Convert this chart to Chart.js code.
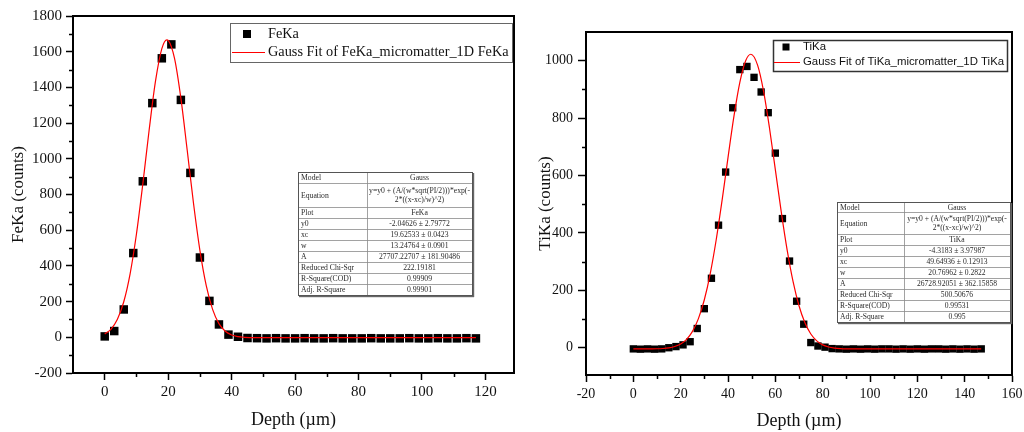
<!DOCTYPE html>
<html>
<head>
<meta charset="utf-8">
<script src="https://cdn.jsdelivr.net/npm/chart.js@4.4.0/dist/chart.umd.min.js"></script>
<style>
  html, body { margin: 0; padding: 0; background: #fff; width: 1024px; height: 432px; overflow: hidden; }
  canvas { position: absolute; top: 0; }
  #fe { left: 0; }
  #ti { left: 520px; }
</style>
</head>
<body>
<canvas id="fe" width="520" height="432"></canvas>
<canvas id="ti" width="504" height="432"></canvas>
<script>
// ---------- FeKa depth profile ----------
const feDepth  = [0, 3, 6, 9, 12, 15, 18, 21, 24, 27, 30, 33, 36, 39, 42, 45, 48, 51, 54, 57,
                  60, 63, 66, 69, 72, 75, 78, 81, 84, 87, 90, 93, 96, 99, 102, 105, 108, 111, 114, 117];
const feCounts = [5, 35, 156, 472, 874, 1312, 1563, 1641, 1330, 921, 447, 204, 72, 15, 3, -4, -5, -6, -5, -6,
                  -6, -5, -6, -6, -5, -6, -6, -6, -5, -6, -6, -6, -5, -6, -6, -5, -6, -6, -5, -6];
// Gauss fit curve of FeKa
const feFitDepth  = [0, 2, 4, 6, 8, 10, 12, 14, 16, 18, 19.6, 20, 22, 24, 26, 28, 30, 32, 34, 36, 38, 40,
                     42, 44, 46, 48, 50, 60, 70, 80, 90, 100, 110, 117];
const feFitCounts = [18.7, 46.4, 101.3, 199, 355.7, 578.5, 858.2, 1161.5, 1434.7, 1617.3, 1666.7, 1664, 1562.8,
                     1339.7, 1048, 748.3, 487.3, 289.4, 156.3, 76.5, 33.6, 12.7, 3.5, -0.1, -1.4, -1.9, -2,
                     -2, -2, -2, -2, -2, -2, -2];
const feXTicks = [0, 20, 40, 60, 80, 100, 120];
const feXMinor = [10, 30, 50, 70, 90, 110];
const feYTicks = [-200, 0, 200, 400, 600, 800, 1000, 1200, 1400, 1600, 1800];
const feYMinor = [-100, 100, 300, 500, 700, 900, 1100, 1300, 1500, 1700];
const feFitLabels = ['Model', 'Equation', 'Plot', 'y0', 'xc', 'w', 'A', 'Reduced Chi-Sqr', 'R-Square(COD)', 'Adj. R-Square'];
const feFitValues = ['Gauss', ['y=y0 + (A/(w*sqrt(PI/2)))*exp(-', '2*((x-xc)/w)^2)'], 'FeKa',
                     '-2.04626 \u00b1 2.79772', '19.62533 \u00b1 0.0423', '13.24764 \u00b1 0.0901',
                     '27707.22707 \u00b1 181.90486', '222.19181', '0.99909', '0.99901'];

// ---------- TiKa depth profile ----------
const tiDepth  = [0, 3, 6, 9, 12, 15, 18, 21, 24, 27, 30, 33, 36, 39, 42, 45, 48, 51, 54, 57,
                  60, 63, 66, 69, 72, 75, 78, 81, 84, 87, 90, 93, 96, 99, 102, 105, 108, 111, 114, 117,
                  120, 123, 126, 129, 132, 135, 138, 141, 144, 147];
const tiCounts = [-4, -5, -4, -5, -4, 0, 4, 10, 21, 67, 136, 242, 427, 612, 836, 969, 980, 942, 891, 819,
                  678, 450, 302, 162, 82, 18, 6, 2, -3, -4, -5, -4, -5, -4, -5, -4, -4, -5, -4, -5,
                  -4, -5, -4, -4, -5, -4, -5, -4, -5, -4];
// Gauss fit curve of TiKa
const tiFitDepth  = [0, 5, 7.5, 10, 12.5, 15, 17.5, 20, 22.5, 25, 27.5, 30, 32.5, 35, 37.5, 40, 42.5, 45, 47.5,
                     49.65, 52.5, 55, 57.5, 60, 62.5, 65, 67.5, 70, 72.5, 75, 77.5, 80, 82.5, 85, 87.5, 90, 95,
                     100, 147];
const tiFitCounts = [-4.3, -4.2, -4.0, -3.6, -2.6, -0.4, 4.2, 13.1, 29.4, 57.1, 101.3, 167.1, 258.3, 375.3, 513.6,
                     662.5, 805.8, 924.5, 1000.7, 1022.5, 984.5, 894.9, 767.2, 620.5, 473.2, 340, 230, 146.2,
                     86.9, 47.9, 23.9, 10, 2.6, -1.2, -3.0, -3.8, -4.2, -4.3, -4.3];
const tiXTicks = [-20, 0, 20, 40, 60, 80, 100, 120, 140, 160];
const tiXMinor = [-10, 10, 30, 50, 70, 90, 110, 130, 150];
const tiYTicks = [0, 200, 400, 600, 800, 1000];
const tiYMinor = [100, 300, 500, 700, 900];
const tiFitLabels = ['Model', 'Equation', 'Plot', 'y0', 'xc', 'w', 'A', 'Reduced Chi-Sqr', 'R-Square(COD)', 'Adj. R-Square'];
const tiFitValues = ['Gauss', ['y=y0 + (A/(w*sqrt(PI/2)))*exp(-', '2*((x-xc)/w)^2)'], 'TiKa',
                     '-4.3183 \u00b1 3.97987', '49.64936 \u00b1 0.12913', '20.76962 \u00b1 0.2822',
                     '26728.92051 \u00b1 362.15858', '500.50676', '0.99531', '0.995'];

const SERIF = '"Liberation Serif", "Times New Roman", serif';
const SANS = '"Liberation Sans", Arial, sans-serif';

function pairs(xs, ys) { return xs.map((x, i) => ({ x: x, y: ys[i] })); }

function makeScale(o) {
  return {
    type: 'linear',
    min: o.min, max: o.max,
    afterBuildTicks: s => { s.ticks = o.ticks.map(v => ({ value: v })); },
    afterFit: s => {
      if (o.isX) s.height = o.size; else s.width = o.size;
      s.paddingLeft = 0; s.paddingRight = 0; s.paddingTop = 0; s.paddingBottom = 0;
    },
    grid: { drawOnChartArea: false, drawTicks: true, tickLength: o.tickLen, tickWidth: 1.5,
            tickColor: '#000', color: '#000' },
    border: { display: true, color: '#000', width: 2 },
    ticks: { color: '#111', font: { family: SERIF, size: o.tickSize }, padding: o.tickPad,
             maxRotation: 0, autoSkip: false, callback: v => String(v) },
    title: { display: true, text: o.title, color: '#111',
             font: { family: SERIF, size: o.titleSize }, padding: o.titlePad }
  };
}

// frame, minor ticks, legend box and fit-result table
const panelDecor = {
  id: 'panelDecor',
  afterDraw(chart, args, opts) {
    const { ctx, chartArea: a, scales } = chart;
    ctx.save();
    ctx.strokeStyle = '#000';
    ctx.lineWidth = 1.5;
    ctx.beginPath();
    opts.xMinor.forEach(v => {
      const px = Math.round(scales.x.getPixelForValue(v)) + 0.5;
      ctx.moveTo(px, a.bottom); ctx.lineTo(px, a.bottom + 4);
    });
    opts.yMinor.forEach(v => {
      const py = Math.round(scales.y.getPixelForValue(v)) + 0.5;
      ctx.moveTo(a.left - 4, py); ctx.lineTo(a.left, py);
    });
    ctx.stroke();
    // top and right edges of the frame
    ctx.lineWidth = 2;
    ctx.beginPath();
    ctx.moveTo(a.left, a.top); ctx.lineTo(a.right, a.top); ctx.lineTo(a.right, a.bottom);
    ctx.stroke();

    // legend
    const L = opts.legend;
    ctx.fillStyle = '#fff';
    ctx.fillRect(L.x, L.y, L.w, L.h);
    ctx.strokeStyle = L.border; ctx.lineWidth = L.borderWidth;
    ctx.strokeRect(L.x + 0.5, L.y + 0.5, L.w, L.h);
    const dsPts = chart.data.datasets[1], dsFit = chart.data.datasets[0];
    ctx.font = L.font; ctx.textBaseline = 'middle'; ctx.textAlign = 'left';
    ctx.fillStyle = dsPts.backgroundColor;
    ctx.fillRect(L.markX - L.mark / 2, L.row1 - L.mark / 2, L.mark, L.mark);
    ctx.fillStyle = '#111';
    ctx.fillText(dsPts.label, L.textX, L.row1);
    ctx.strokeStyle = dsFit.borderColor; ctx.lineWidth = 1;
    ctx.beginPath(); ctx.moveTo(L.lineX0, L.row2 + 0.5); ctx.lineTo(L.lineX1, L.row2 + 0.5); ctx.stroke();
    ctx.fillStyle = '#111';
    ctx.fillText(dsFit.label, L.textX, L.row2);

    // table of fit results
    const T = opts.table;
    const heights = [T.headH, T.eqH].concat(new Array(T.labels.length - 2).fill(T.rowH));
    const total = heights.reduce((s, h) => s + h, 0);
    ctx.fillStyle = '#fff';
    ctx.fillRect(T.x, T.y, T.w, total);
    ctx.strokeStyle = '#8a8a8a'; ctx.lineWidth = 0.8;
    let yy = T.y;
    ctx.beginPath();
    for (let i = 0; i < heights.length - 1; i++) {
      yy += heights[i];
      ctx.moveTo(T.x, Math.round(yy) + 0.5); ctx.lineTo(T.x + T.w, Math.round(yy) + 0.5);
    }
    ctx.moveTo(T.split + 0.5, T.y); ctx.lineTo(T.split + 0.5, T.y + total);
    ctx.stroke();
    ctx.strokeStyle = '#555'; ctx.lineWidth = 1;
    ctx.strokeRect(T.x + 0.5, T.y + 0.5, T.w, total);
    ctx.fillStyle = '#666';
    ctx.fillRect(T.x + T.w + 1, T.y + 1, 1.2, total + 1);
    ctx.fillRect(T.x + 1, T.y + total + 1, T.w + 1, 1.2);
    ctx.font = T.font; ctx.fillStyle = '#2a2a2a'; ctx.textBaseline = 'middle';
    yy = T.y;
    T.labels.forEach((lab, i) => {
      const h = heights[i], cy = yy + h / 2 + 0.5;
      ctx.textAlign = 'left';
      ctx.fillText(lab, T.x + 3, cy);
      ctx.textAlign = 'center';
      const cx = (T.split + T.x + T.w) / 2;
      const val = T.values[i];
      if (Array.isArray(val)) {
        ctx.fillText(val[0], cx, cy - 4.5);
        ctx.fillText(val[1], cx, cy + 4.5);
      } else {
        ctx.fillText(val, cx, cy);
      }
      yy += h;
    });
    ctx.restore();
  }
};

function makeChart(id, cfg) {
  return new Chart(document.getElementById(id), {
    type: 'line',
    data: {
      datasets: [
        { label: cfg.fitLabel, data: pairs(cfg.fitX, cfg.fitY), borderColor: '#ff0000', borderWidth: 1.2,
          pointRadius: 0, cubicInterpolationMode: 'monotone', fill: false, order: 0 },
        { label: cfg.label, data: pairs(cfg.x, cfg.y), showLine: false, pointStyle: 'rect',
          pointRadius: cfg.markR, backgroundColor: '#000', borderColor: '#000', borderWidth: 0, order: 1 }
      ]
    },
    options: {
      responsive: false,
      animation: false,
      devicePixelRatio: 1,
      layout: { padding: cfg.pad },
      plugins: {
        legend: { display: false },
        tooltip: { enabled: false },
        panelDecor: { xMinor: cfg.xMinor, yMinor: cfg.yMinor, legend: cfg.legend, table: cfg.table }
      },
      scales: { x: cfg.xScale, y: cfg.yScale }
    },
    plugins: [panelDecor]
  });
}

makeChart('fe', {
  label: 'FeKa', fitLabel: 'Gauss Fit of FeKa_micromatter_1D FeKa',
  x: feDepth, y: feCounts, fitX: feFitDepth, fitY: feFitCounts, markR: 6,
  xMinor: feXMinor, yMinor: feYMinor,
  pad: { top: 16, right: 3, left: 0, bottom: 0 },
  xScale: makeScale({ isX: true, min: -10, max: 129, ticks: feXTicks, size: 59, tickLen: 7, tickSize: 15,
                      tickPad: 3, title: 'Depth (\u00b5m)', titleSize: 18, titlePad: { top: 0, bottom: 1 } }),
  yScale: makeScale({ isX: false, min: -200, max: 1800, ticks: feYTicks, size: 73, tickLen: 7, tickSize: 15,
                      tickPad: 4, title: 'FeKa (counts)', titleSize: 17, titlePad: { top: 8, bottom: 0 } }),
  legend: { x: 230, y: 23, w: 282, h: 39, border: '#666', borderWidth: 1, font: '14.3px ' + SERIF,
            mark: 8, markX: 247, row1: 34, row2: 52, lineX0: 232, lineX1: 265, textX: 268 },
  table: { x: 298, y: 172, w: 174, split: 367, headH: 11, eqH: 24, rowH: 11,
           font: '7.7px ' + SERIF, labels: feFitLabels, values: feFitValues }
});

makeChart('ti', {
  label: 'TiKa', fitLabel: 'Gauss Fit of TiKa_micromatter_1D TiKa',
  x: tiDepth, y: tiCounts, fitX: tiFitDepth, fitY: tiFitCounts, markR: 5.2,
  xMinor: tiXMinor, yMinor: tiYMinor,
  pad: { top: 32, right: 12, left: 0, bottom: 0 },
  xScale: makeScale({ isX: true, min: -20, max: 160, ticks: tiXTicks, size: 57, tickLen: 7, tickSize: 14,
                      tickPad: 4, title: 'Depth (\u00b5m)', titleSize: 18, titlePad: { top: 0, bottom: 0 } }),
  yScale: makeScale({ isX: false, min: -95, max: 1100, ticks: tiYTicks, size: 66, tickLen: 8, tickSize: 14,
                      tickPad: 5, title: 'TiKa (counts)', titleSize: 17, titlePad: { top: 15, bottom: 0 } }),
  legend: { x: 253, y: 40, w: 234, h: 31, border: '#333', borderWidth: 1.5, font: '11.4px ' + SANS,
            mark: 7, markX: 266, row1: 47, row2: 62, lineX0: 254, lineX1: 280, textX: 283 },
  table: { x: 317, y: 202, w: 173, split: 384, headH: 10, eqH: 22, rowH: 11,
           font: '7.6px ' + SERIF, labels: tiFitLabels, values: tiFitValues }
});
</script>
</body>
</html>
